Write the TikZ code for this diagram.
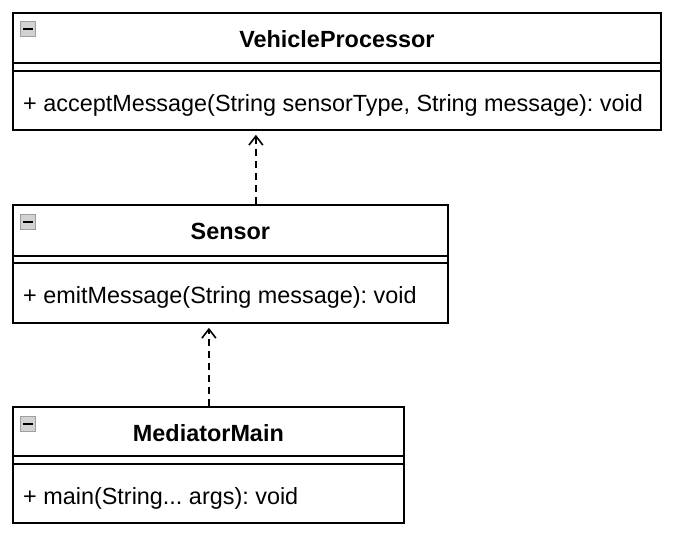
\documentclass[tikz,border=0pt]{standalone}
\usepackage{fontspec}
\setmainfont{Liberation Sans}
\usetikzlibrary{arrows.meta}
\frenchspacing
\tikzset{
 classbox/.style={draw, line width=1.8pt, rectangle, anchor=north west, inner sep=0pt, fill=white},
 sepline/.style={line width=1.5pt},
 titletext/.style={font=\fontsize{23.4}{28}\selectfont\bfseries, anchor=base, inner sep=0pt},
 methodtext/.style={font=\fontsize{23.4}{28}\selectfont, anchor=base west, inner sep=0pt},
 depend/.style={line width=1.6pt, dash pattern=on 7pt off 5pt, -{Straight Barb[length=9pt,width=14pt,line width=1.6pt]}, shorten >=4pt},
 collapseicon/.style={draw=gray!75, fill=gray!35, line width=0.9pt, minimum size=15pt, inner sep=0pt, anchor=north west},
 icondash/.style={line width=1.6pt, black}
}
\begin{document}
\begin{tikzpicture}[x=1pt,y=-1pt]
\useasboundingbox (0,0) rectangle (677,542);
% VehicleProcessor
\node[classbox, minimum width=648pt, minimum height=117pt] (vp) at (12,12) {};
\draw[sepline] ([yshift=-51pt]vp.north west) -- ([yshift=-51pt]vp.north east);
\draw[sepline] ([yshift=-59pt]vp.north west) -- ([yshift=-59pt]vp.north east);
\node[titletext] (vptitle) at ([yshift=-35pt]vp.north) {VehicleProcessor};
\node[methodtext] (vpm) at ([xshift=11pt,yshift=-99pt]vp.north west) {+ acceptMessage(String sensorType, String message): void};
\node[collapseicon] (vpicon) at ([xshift=8pt,yshift=-9pt]vp.north west) {};
\draw[icondash] ([xshift=3pt]vpicon.west) -- ([xshift=-3pt]vpicon.east);
% Sensor
\node[classbox, minimum width=435pt, minimum height=118pt] (sensor) at (12,204) {};
\draw[sepline] ([yshift=-52pt]sensor.north west) -- ([yshift=-52pt]sensor.north east);
\draw[sepline] ([yshift=-59pt]sensor.north west) -- ([yshift=-59pt]sensor.north east);
\node[titletext] (stitle) at ([yshift=-35pt]sensor.north) {Sensor};
\node[methodtext] (sm) at ([xshift=11pt,yshift=-99pt]sensor.north west) {+ emitMessage(String message): void};
\node[collapseicon] (sicon) at ([xshift=8pt,yshift=-10pt]sensor.north west) {};
\draw[icondash] ([xshift=3pt]sicon.west) -- ([xshift=-3pt]sicon.east);
% MediatorMain
\node[classbox, minimum width=391pt, minimum height=116pt] (mm) at (12,406) {};
\draw[sepline] ([yshift=-50pt]mm.north west) -- ([yshift=-50pt]mm.north east);
\draw[sepline] ([yshift=-58pt]mm.north west) -- ([yshift=-58pt]mm.north east);
\node[titletext] (mtitle) at ([yshift=-35pt]mm.north) {MediatorMain};
\node[methodtext] (mmm) at ([xshift=11pt,yshift=-98pt]mm.north west) {+ main(String... args): void};
\node[collapseicon] (micon) at ([xshift=8pt,yshift=-10pt]mm.north west) {};
\draw[icondash] ([xshift=3pt]micon.west) -- ([xshift=-3pt]micon.east);
% dependencies
\coordinate (s1) at ([xshift=25.5pt]sensor.north);
\coordinate (m1) at ([xshift=0.5pt]mm.north);
\draw[depend] (s1) -- (s1 |- vp.south);
\draw[depend] (m1) -- (m1 |- sensor.south);
\end{tikzpicture}
\end{document}
